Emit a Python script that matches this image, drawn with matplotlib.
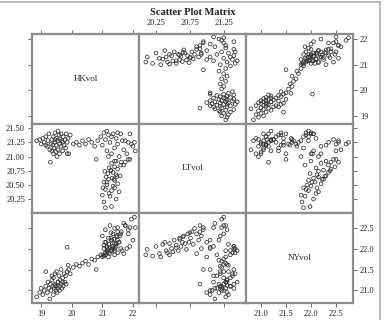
import numpy as np
import matplotlib
matplotlib.use("Agg")
import matplotlib.pyplot as plt
from matplotlib.lines import Line2D

plt.rcParams['font.family'] = ['Liberation Serif', 'DejaVu Serif']

names = ["HKvol", "LTvol", "NYvol"]

# low HK regime
hk_a = [18.85, 18.95, 19.00, 19.05, 19.10, 19.15, 19.20, 19.22, 19.25, 19.28,
        19.30, 19.32, 19.35, 19.38, 19.40, 19.40, 19.42, 19.45, 19.45, 19.48,
        19.50, 19.50, 19.52, 19.55, 19.55, 19.58, 19.60, 19.60, 19.62, 19.65,
        19.65, 19.68, 19.70, 19.70, 19.72, 19.75, 19.78, 19.80, 19.82, 19.85,
        19.88, 19.90, 19.95, 19.55, 19.35, 19.85, 19.15, 19.45]
lt_a = [21.28, 21.30, 21.22, 21.32, 21.25, 21.35, 21.18, 21.28, 21.40, 21.12,
        20.90, 21.22, 21.30, 21.20, 21.05, 21.35, 21.15, 21.25, 21.42, 21.08,
        21.20, 21.32, 21.00, 21.28, 21.12, 21.38, 21.22, 21.05, 21.30, 21.18,
        21.40, 21.28, 21.10, 21.25, 21.35, 21.20, 21.30, 21.15, 21.40, 21.25,
        21.32, 21.05, 21.38, 21.45, 21.10, 21.05, 21.20, 21.30]
ny_a = [20.85, 20.95, 21.05, 20.90, 21.00, 21.10, 20.95, 21.20, 21.05, 20.80,
        21.15, 21.00, 21.25, 21.10, 20.90, 21.30, 21.05, 21.15, 21.40, 21.00,
        21.10, 21.45, 20.95, 21.20, 21.05, 21.35, 21.10, 21.00, 21.25, 21.15,
        21.50, 21.05, 21.20, 21.30, 21.10, 21.40, 21.20, 21.35, 21.15, 21.45,
        21.60, 21.50, 21.40, 21.20, 21.35, 22.03, 21.45, 21.12]

# transition
hk_b = [20.05, 20.15, 20.25, 20.35, 20.45, 20.55, 20.65, 20.75, 20.85, 20.80]
lt_b = [21.22, 21.25, 21.20, 21.28, 21.22, 21.30, 21.25, 21.18, 21.28, 20.95]
ny_b = [21.55, 21.62, 21.58, 21.65, 21.70, 21.62, 21.75, 21.72, 21.80, 21.50]

# high HK, high LT
hk_c = [20.95, 21.00, 21.05, 21.10, 21.15, 21.20, 21.25, 21.30, 21.35, 21.40,
        21.45, 21.50, 21.55, 21.60, 21.62, 21.65, 21.70, 21.75, 21.80, 21.85,
        21.90, 21.95, 22.00, 22.05, 21.90, 21.70, 21.20, 21.40, 21.15, 22.08,
        21.50, 21.30]
lt_c = [21.35, 21.20, 21.42, 21.30, 21.10, 21.38, 21.25, 21.05, 21.40, 21.15,
        21.32, 21.22, 21.00, 21.40, 20.90, 21.28, 21.12, 21.28, 21.05, 21.25,
        20.95, 21.22, 21.18, 21.25, 21.40, 20.85, 21.00, 20.92, 21.45, 21.10,
        21.42, 21.35]
ny_c = [21.85, 22.30, 22.00, 22.45, 22.05, 21.90, 22.55, 22.20, 22.05, 21.85,
        22.10, 22.50, 22.15, 22.00, 22.40, 21.95, 22.60, 22.55, 22.00, 22.35,
        22.50, 22.70, 22.20, 22.75, 22.05, 21.88, 21.80, 22.00, 21.95, 22.50,
        21.90, 21.95]

# high HK, low LT
hk_d = [21.10, 21.30, 21.05, 21.45, 21.25, 21.00, 21.55, 21.30, 21.10, 21.40,
        21.35, 21.15, 21.50, 21.05, 21.40, 21.20, 21.32, 21.12, 21.58, 21.45,
        21.18, 21.35, 21.08, 21.28, 21.50, 21.22, 21.40, 21.60, 21.30, 21.75,
        21.45, 21.85, 21.38, 21.02, 21.22, 21.15, 21.48, 21.28]
lt_d = [20.10, 20.12, 20.20, 20.25, 20.30, 20.32, 20.38, 20.40, 20.42, 20.45,
        20.48, 20.50, 20.52, 20.55, 20.58, 20.60, 20.62, 20.64, 20.66, 20.68,
        20.70, 20.72, 20.74, 20.76, 20.78, 20.80, 20.82, 20.85, 20.88, 20.90,
        20.92, 20.95, 20.60, 20.45, 20.35, 20.55, 20.65, 20.75]
ny_d = [21.85, 21.98, 21.82, 22.05, 21.88, 21.80, 22.15, 21.95, 21.90, 22.12,
        22.00, 21.92, 22.20, 22.08, 21.95, 22.25, 22.05, 22.15, 22.30, 22.12,
        21.98, 22.35, 22.15, 22.25, 22.40, 22.10, 22.48, 22.35, 22.20, 22.55,
        22.30, 22.45, 22.22, 21.85, 22.10, 22.02, 22.28, 22.38]

hk = np.array(hk_a + hk_b + hk_c + hk_d)
lt = np.array(lt_a + lt_b + lt_c + lt_d)
ny = np.array(ny_a + ny_b + ny_c + ny_d)
data = [hk, lt, ny]

limits = [(18.7, 22.2), (20.0, 21.58), (20.7, 22.84)]
ticks = [[19, 20, 21, 22],
         [20.25, 20.5, 20.75, 21.0, 21.25, 21.5],
         [21.0, 21.5, 22.0, 22.5]]
tick_labels = [["19", "20", "21", "22"],
               ["20.25", "20.50", "20.75", "21.00", "21.25", "21.50"],
               ["21.0", "21.5", "22.0", "22.5"]]
top_ticks = [[19, 20, 21, 22], [20.25, 20.75, 21.25], [21.0, 21.5, 22.0, 22.5]]
top_labels = [None, ["20.25", "20.75", "21.25"], None]
bottom_labels = [["19", "20", "21", "22"], None, ["21.0", "21.5", "22.0", "22.5"]]

fig, axes = plt.subplots(3, 3, figsize=(3.86, 3.2), dpi=100)
fig.subplots_adjust(left=0.083, right=0.9145, top=0.894, bottom=0.053,
                    wspace=0, hspace=0)

frame_col = "#8c8c8c"
txt_col = "#222222"
fs = 6

for i in range(3):
    for j in range(3):
        ax = axes[i, j]
        ax.set_xlim(limits[j])
        ax.set_ylim(limits[i])
        for s in ax.spines.values():
            s.set_color(frame_col)
            s.set_linewidth(1.6)
        ax.set_xticks([])
        ax.set_yticks([])
        if i == j:
            ax.text(0.5, 0.5, names[i], transform=ax.transAxes, ha="center",
                    va="center", fontsize=6.5, color=txt_col)
        else:
            ax.scatter(data[j], data[i], s=7, facecolors="none",
                       edgecolors="#333333", linewidths=0.55)

        # lattice style alternating axes
        if i == 0:
            ax.xaxis.set_ticks_position("top")
            ax.set_xticks(top_ticks[j])
            if top_labels[j]:
                ax.set_xticklabels(top_labels[j])
                ax.xaxis.set_tick_params(labeltop=True)
            else:
                ax.set_xticklabels([])
        if i == 2:
            ax.xaxis.set_ticks_position("bottom")
            ax.set_xticks(top_ticks[j])
            if bottom_labels[j]:
                ax.set_xticklabels(bottom_labels[j])
            else:
                ax.set_xticklabels([])
        if j == 0:
            ax.yaxis.set_ticks_position("left")
            ax.set_yticks(ticks[i])
            if i == 1:
                ax.set_yticklabels(tick_labels[i])
            else:
                ax.set_yticklabels([])
        if j == 2:
            ax.yaxis.set_ticks_position("right")
            ax.set_yticks(ticks[i])
            if i != 1:
                ax.set_yticklabels(tick_labels[i])
                ax.yaxis.set_tick_params(labelright=True)
            else:
                ax.set_yticklabels([])
        ax.tick_params(length=3, width=0.6, color="#555555", labelsize=fs,
                       labelcolor=txt_col, pad=2)

fig.suptitle("Scatter Plot Matrix", fontsize=7.5, fontweight="bold",
             color=txt_col, y=0.975)

# outer screenshot frame
fig.add_artist(Line2D([0, 0.985], [0.995, 0.995], transform=fig.transFigure,
                      color="#b0b0b0", linewidth=1.2))
fig.add_artist(Line2D([0.985, 0.985], [0.0, 0.995], transform=fig.transFigure,
                      color="#b0b0b0", linewidth=1.2))

fig.savefig("out.png", dpi=100)
